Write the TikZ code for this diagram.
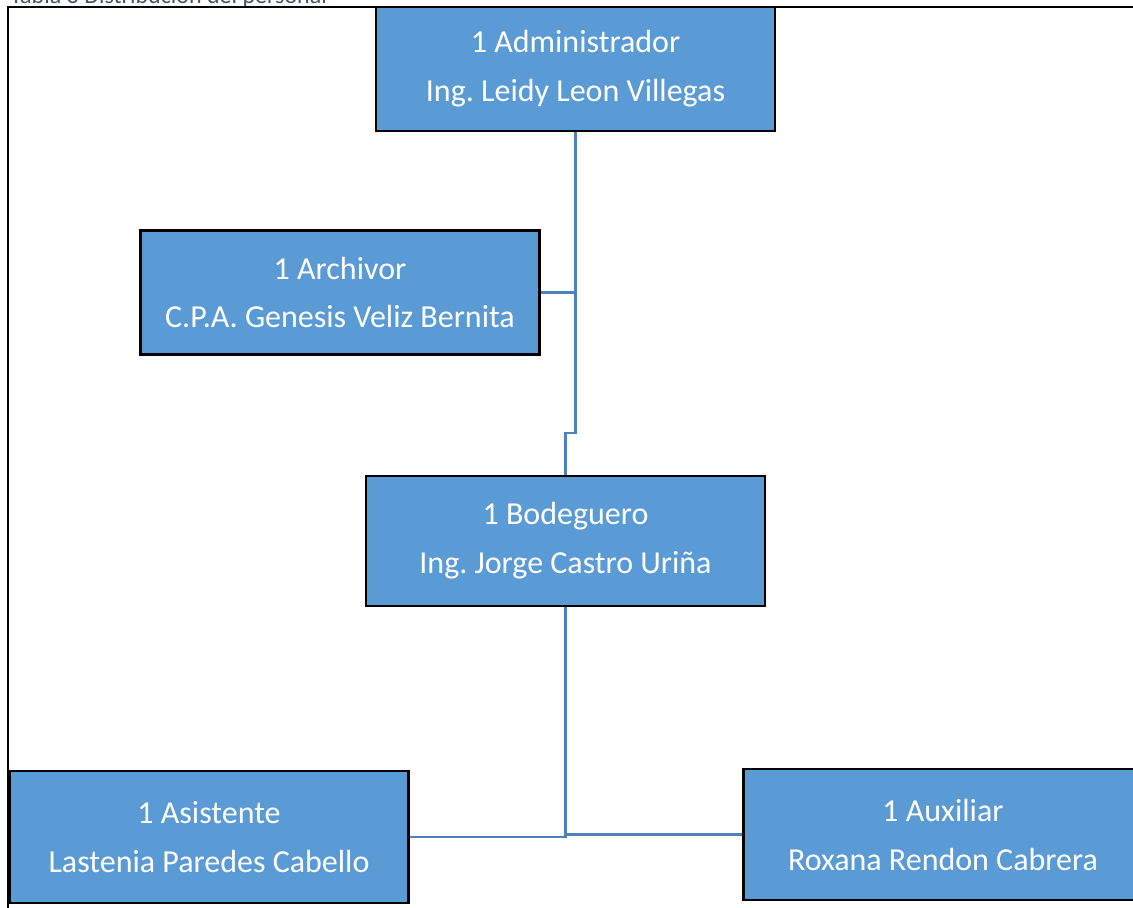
\documentclass[tikz,border=0pt]{standalone}
\usepackage{fontspec}
\setmainfont{Carlito}
\usetikzlibrary{calc,positioning}
\definecolor{cajaazul}{HTML}{5B9BD5}
\definecolor{lineaazul}{HTML}{4F81BD}
\definecolor{titulo}{HTML}{44546A}
\frenchspacing

\begin{document}
\begin{tikzpicture}[x=0.5pt,y=-0.5pt]
				\tikzstyle{cargo}=[draw=black, line width=1.4pt, fill=cajaazul, text=white, align=center,
					minimum width=199.5pt, minimum height=62pt, inner sep=0pt,
					font=\fontsize{16}{24.5}\selectfont]
				\tikzstyle{enlace}=[draw=lineaazul, line width=1.2pt]
				\useasboundingbox (0,0) rectangle (1133,907);
				\clip (0,0) rectangle (1133,907);
				%Caption and frame
				\node[anchor=base west, text=titulo, inner sep=0pt, font=\fontsize{12}{14}\selectfont](tit) at (10,3){Tabla 3 Distribución del personal};
				\draw[line width=1pt] (8,1000) -- (8,7) -- (1200,7);
				%Boxes
				\node[cargo](admin) at (575.5,69){1 Administrador\\Ing. Leidy Leon Villegas};
				\node[cargo](archivo) at (340,292.5){1 Archivor\\C.P.A. Genesis Veliz Bernita};
				\node[cargo, minimum height=65pt](bodega) at (565.5,541){1 Bodeguero\\Ing. Jorge Castro Uriña};
				\node[cargo, minimum height=66pt](asist) at (209,837){1 Asistente\\Lastenia Paredes Cabello};
				\node[cargo, minimum height=65.5pt](aux) at (943,834.5){1 Auxiliar\\Roxana Rendon Cabrera};
				%Connectors
				\coordinate (quiebre) at (575.5,433);
				\draw[enlace] (admin.south) -- (quiebre) -| (bodega.north);
				\draw[enlace] (archivo.east) -- (archivo.east -| admin.south);
				\draw[enlace] (bodega.south) -- (bodega.south |- asist.east) -- (asist.east);
				\draw[enlace] (bodega.south |- aux.west) -- (aux.west);
\end{tikzpicture}
\end{document}
